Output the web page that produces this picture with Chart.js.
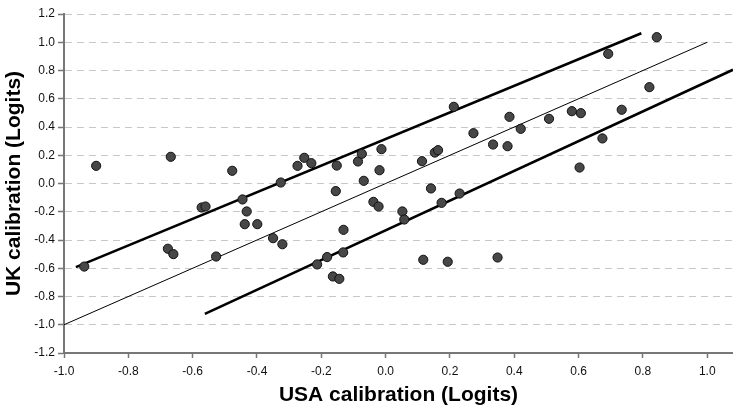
<!DOCTYPE html>
<html>
<head>
<meta charset="utf-8">
<script src="https://cdn.jsdelivr.net/npm/chart.js@4"></script>
<style>
    body {margin: 0; background: #ffffff; overflow: hidden;}
    #chart_box {width: 733px; height: 413px;}
</style>
</head>
<body>
<div id="chart_box"><canvas id="calibration_canvas"></canvas></div>
<script>
// item calibrations
const usa_calibration = [
    -0.937, -0.900, -0.668, -0.677, -0.660, -0.572, -0.560, -0.527, -0.477, -0.445,
    -0.432, -0.438, -0.399, -0.350, -0.321, -0.326, -0.274, -0.253, -0.231, -0.152,
    -0.155, -0.131, -0.132, -0.182, -0.213, -0.164, -0.144, -0.086, -0.074, -0.013,
    -0.019, -0.068, -0.038, -0.022, 0.052, 0.058, 0.117, 0.193, 0.113, 0.153,
    0.163, 0.141, 0.174, 0.230, 0.212, 0.273, 0.334, 0.379, 0.385, 0.420,
    0.508, 0.579, 0.607, 0.674, 0.603, 0.734, 0.820, 0.692, 0.843, 0.348
];
const uk_calibration = [
    -0.588, 0.125, 0.189, -0.462, -0.500, -0.170, -0.163, -0.517, 0.090, -0.113,
    -0.198, -0.288, -0.288, -0.387, -0.430, 0.007, 0.125, 0.182, 0.144, 0.127,
    -0.054, -0.328, -0.488, -0.521, -0.573, -0.658, -0.675, 0.156, 0.210, 0.243,
    0.094, 0.019, -0.130, -0.163, -0.198, -0.255, -0.540, -0.554, 0.158, 0.219,
    0.236, -0.035, -0.137, -0.071, 0.543, 0.356, 0.276, 0.264, 0.472, 0.387,
    0.458, 0.512, 0.498, 0.319, 0.113, 0.522, 0.682, 0.918, 1.036, -0.524
];

// identity line and the two control lines
const identity_x = [-1.0, 1.0];
const identity_y = [-1.0, 1.0];
const upper_limit_x = [-0.963, 0.795];
const upper_limit_y = [-0.592, 1.064];
const lower_limit_x = [-0.562, 1.08];
const lower_limit_y = [-0.923, 0.805];

const x_tick_values = [-1.0, -0.8, -0.6, -0.4, -0.2, 0.0, 0.2, 0.4, 0.6, 0.8, 1.0];
const x_min = -1.0;
const x_max = 1.08;
const y_min = -1.2;
const y_max = 1.2;
const tick_step = 0.2;

const axis_color = "#777777";
const font_family = "'Liberation Sans', Arial, sans-serif";

function to_points(xs, ys) {
    return xs.map((x, i) => ({x: x, y: ys[i]}));
}

function format_tick(value) {
    if (Math.abs(value) < 1e-9) {return "0.0";}
    return value.toFixed(1);
}

function make_line(xs, ys, width) {
    return {
        label: "line",
        data: to_points(xs, ys),
        showLine: true,
        borderColor: "#000000",
        borderWidth: width,
        pointRadius: 0,
        fill: false
    };
}

let data = {
    datasets: [
        {
            label: "Items",
            data: to_points(usa_calibration, uk_calibration),
            backgroundColor: "#474747",
            borderColor: "#111111",
            borderWidth: 1,
            pointRadius: 4.6
        },
        make_line(identity_x, identity_y, 1),
        make_line(upper_limit_x, upper_limit_y, 2.6),
        make_line(lower_limit_x, lower_limit_y, 2.6)
    ]
};

let config = {
    type: 'scatter',
    data: data,
    options: {
        responsive: true,
        maintainAspectRatio: false,
        animation: false,
        layout: {
            autoPadding: false,
            padding: {top: 14, right: 0, bottom: 0, left: 0}
        },
        plugins: {
            legend: {display: false},
            tooltip: {enabled: false}
        },
        scales: {
            x: {
                type: 'linear',
                min: x_min,
                max: x_max,
                afterBuildTicks: function(axis) {
                    axis.ticks = x_tick_values.map(v => ({value: v}));
                },
                afterFit: function(axis) {axis.height = 60;},
                ticks: {
                    padding: 6,
                    maxRotation: 0,
                    autoSkip: false,
                    color: "#111111",
                    font: {family: font_family, size: 12},
                    callback: function(value) {return format_tick(value);}
                },
                grid: {
                    drawOnChartArea: false,
                    tickLength: 5,
                    tickColor: axis_color,
                    tickWidth: 1.5
                },
                border: {color: axis_color, width: 2},
                title: {
                    display: true,
                    text: "USA calibration (Logits)",
                    color: "#000000",
                    font: {family: font_family, size: 21, weight: 'bold'},
                    padding: {top: 0, bottom: 5}
                }
            },
            y: {
                type: 'linear',
                min: y_min,
                max: y_max,
                afterFit: function(axis) {axis.width = 64;},
                ticks: {
                    stepSize: tick_step,
                    padding: 3,
                    color: "#111111",
                    font: {family: font_family, size: 12},
                    callback: function(value) {return format_tick(value);}
                },
                grid: {
                    color: "#c8c8c8",
                    lineWidth: 1,
                    tickLength: 6,
                    tickColor: axis_color,
                    tickWidth: 1.5,
                    tickBorderDash: []
                },
                border: {color: axis_color, width: 2, dash: [7, 5]},
                title: {
                    display: true,
                    text: "UK calibration (Logits)",
                    color: "#000000",
                    font: {family: font_family, size: 21, weight: 'bold'},
                    padding: {top: 2, bottom: 0}
                }
            }
        }
    }
};

let calibration_plot = new Chart(
    document.getElementById('calibration_canvas'),
    config
);
</script>
</body>
</html>
